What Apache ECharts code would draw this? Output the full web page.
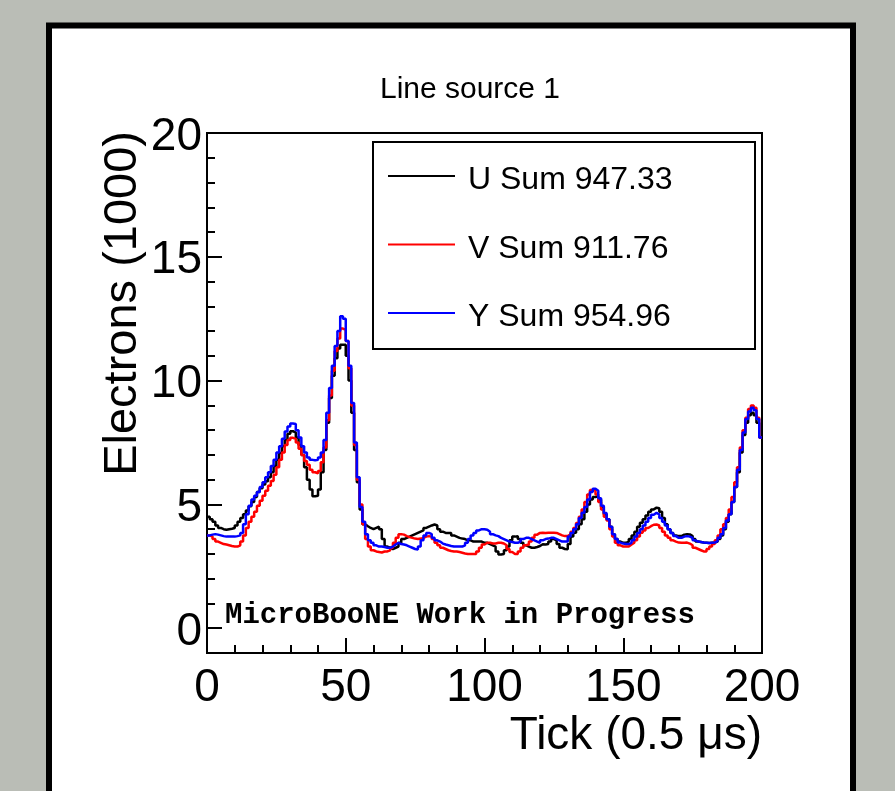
<!DOCTYPE html>
<html>
<head>
<meta charset="utf-8">
<title>Line source 1</title>
<script src="https://cdn.jsdelivr.net/npm/echarts@6/dist/echarts.min.js"></script>
<style>
  html, body { margin: 0; padding: 0; background: #babdb6; }
  #chart { width: 895px; height: 791px; }
</style>
</head>
<body>
<div id="chart"></div>
<script>
// Collected charge per readout tick (1000 electrons), one bin per tick, ticks 0..199
const uPlane = [
  4.5, 4.4, 4.3, 4.15, 4.05, 4.0, 3.98, 4.0, 4.02, 4.05,
  4.15, 4.3, 4.45, 4.6, 4.75, 4.93, 5.1, 5.3, 5.5, 5.65,
  5.8, 5.94, 6.1, 6.3, 6.55, 6.8, 7.08, 7.35, 7.6, 7.85,
  7.96, 7.9, 7.7, 7.4, 7.0, 6.5, 6.0, 5.6, 5.33, 5.35,
  5.6, 6.3, 7.2, 8.3, 9.3, 10.2, 10.9, 11.3, 11.45, 11.45,
  11.0, 10.0, 8.7, 7.2, 5.9, 4.8, 4.2, 4.12, 4.05, 4.0,
  4.05, 4.1, 4.0, 3.6, 3.3, 3.25, 3.2, 3.25, 3.3, 3.45,
  3.6, 3.65, 3.7, 3.75, 3.8, 3.85, 3.9, 3.95, 4.05, 4.1,
  4.15, 4.19, 4.15, 4.0, 3.9, 3.85, 3.85, 3.85, 3.75, 3.7,
  3.65, 3.62, 3.6, 3.55, 3.55, 3.5, 3.5, 3.5, 3.5, 3.45,
  3.45, 3.4, 3.35, 3.3, 3.1, 2.98, 3.0, 3.15, 3.3, 3.55,
  3.7, 3.72, 3.6, 3.45, 3.35, 3.3, 3.25, 3.25, 3.28, 3.32,
  3.39, 3.38, 3.4, 3.5, 3.6, 3.55, 3.4, 3.25, 3.2, 3.19,
  3.4, 3.7, 3.86, 4.0, 4.2, 4.4, 4.7, 5.0, 5.2, 5.3,
  5.33, 5.2, 4.9, 4.6, 4.4, 4.1, 3.8, 3.6, 3.5, 3.45,
  3.45, 3.5, 3.6, 3.75, 3.9, 4.1, 4.26, 4.4, 4.55, 4.7,
  4.8, 4.87, 4.85, 4.7, 4.45, 4.2, 4.0, 3.85, 3.75, 3.72,
  3.72, 3.78, 3.8, 3.79, 3.72, 3.6, 3.5, 3.48, 3.46, 3.45,
  3.44, 3.45, 3.46, 3.5, 3.6, 3.75, 4.0, 4.3, 4.6, 5.1,
  5.7, 6.3, 7.1, 7.8, 8.3, 8.6, 8.7, 8.6, 8.3, 7.7
];
const vPlane = [
  3.75, 3.7, 3.6, 3.5, 3.45, 3.4, 3.38, 3.35, 3.32, 3.3,
  3.3, 3.35, 3.5, 3.75, 4.05, 4.3, 4.5, 4.7, 4.95, 5.15,
  5.35, 5.55, 5.75, 5.95, 6.2, 6.5, 6.8, 7.1, 7.4, 7.6,
  7.69, 7.65, 7.5, 7.25, 7.0, 6.75, 6.6, 6.4, 6.3, 6.25,
  6.35, 6.7, 7.3, 8.4, 9.4, 10.4, 11.2, 11.7, 12.1, 12.05,
  11.6, 10.5, 9.0, 7.4, 6.0, 5.0, 4.2, 3.6, 3.3, 3.15,
  3.1, 3.08, 3.06, 3.1, 3.1, 3.15, 3.25, 3.45, 3.65, 3.8,
  3.78, 3.72, 3.68, 3.65, 3.62, 3.6, 3.62, 3.65, 3.7, 3.72,
  3.7, 3.6, 3.45, 3.35, 3.25, 3.2, 3.15, 3.12, 3.1, 3.1,
  3.08, 3.05, 3.02, 3.0, 3.0, 3.0, 3.0, 3.1, 3.25, 3.38,
  3.45, 3.45, 3.42, 3.42, 3.45, 3.45, 3.42, 3.35, 3.2, 3.08,
  3.0, 3.0, 3.1, 3.25, 3.35, 3.38, 3.5, 3.65, 3.78, 3.85,
  3.86, 3.85, 3.86, 3.86, 3.86, 3.85, 3.8, 3.75, 3.72, 3.72,
  3.8, 3.9, 4.05, 4.25, 4.5, 4.8, 5.1, 5.4, 5.58, 5.55,
  5.4, 5.1, 4.8, 4.5, 4.35, 4.0, 3.7, 3.45, 3.35, 3.3,
  3.3, 3.3, 3.38, 3.45, 3.55, 3.7, 3.86, 3.95, 4.05, 4.12,
  4.18, 4.19, 4.15, 4.05, 3.9, 3.75, 3.65, 3.55, 3.5, 3.46,
  3.45, 3.45, 3.46, 3.42, 3.35, 3.25, 3.2, 3.15, 3.1, 3.1,
  3.2, 3.3, 3.4, 3.55, 3.75, 4.0, 4.2, 4.45, 4.8, 5.3,
  5.9, 6.5, 7.3, 8.0, 8.5, 8.85, 9.0, 8.9, 8.5, 7.7
];
const yPlane = [
  3.75, 3.78, 3.8, 3.78, 3.75, 3.72, 3.7, 3.7, 3.7, 3.7,
  3.72, 3.75, 3.85, 4.2, 4.6, 4.95, 5.2, 5.35, 5.5, 5.7,
  5.9, 6.1, 6.3, 6.55, 6.8, 7.1, 7.35, 7.65, 7.95, 8.15,
  8.27, 8.25, 8.0, 7.7, 7.35, 7.1, 6.9, 6.8, 6.78, 6.8,
  6.9, 7.1, 7.6, 8.7, 9.7, 10.6, 11.4, 12.0, 12.6, 12.5,
  11.6, 10.6, 9.1, 7.5, 6.1, 4.9, 4.3, 3.8, 3.55, 3.45,
  3.35, 3.3, 3.3, 3.28, 3.25, 3.25, 3.3, 3.38, 3.45, 3.4,
  3.38, 3.35, 3.3, 3.25, 3.2, 3.18, 3.3, 3.55, 3.75, 3.85,
  3.8, 3.65, 3.55, 3.5, 3.42, 3.38, 3.35, 3.32, 3.3, 3.3,
  3.3, 3.3, 3.35, 3.45, 3.6, 3.75, 3.85, 3.95, 4.0, 4.0,
  3.98, 3.9, 3.8, 3.75, 3.72, 3.65, 3.6, 3.55, 3.5, 3.48,
  3.45, 3.45, 3.5, 3.6, 3.65, 3.65, 3.6, 3.55, 3.5, 3.45,
  3.55, 3.6, 3.62, 3.65, 3.65, 3.6, 3.55, 3.5, 3.5, 3.5,
  3.7, 3.85, 4.0, 4.2, 4.45, 4.66, 4.9, 5.2, 5.5, 5.63,
  5.55, 5.25, 4.95, 4.65, 4.4, 4.1, 3.8, 3.6, 3.46, 3.42,
  3.4, 3.4, 3.45, 3.55, 3.7, 3.85, 4.0, 4.15, 4.3, 4.45,
  4.58, 4.66, 4.6, 4.45, 4.3, 4.15, 4.0, 3.85, 3.72, 3.65,
  3.65, 3.7, 3.72, 3.7, 3.65, 3.55, 3.5, 3.48, 3.46, 3.45,
  3.44, 3.45, 3.46, 3.52, 3.65, 3.8, 4.05, 4.35, 4.6, 5.1,
  5.7, 6.4, 7.2, 7.9, 8.45, 8.75, 8.9, 8.8, 8.45, 7.7
];
const seriesNames = ['U Sum 947.33', 'V Sum 911.76', 'Y Sum 954.96'];
const seriesColors = ['#000000', '#ff0000', '#0000ff'];
const xTicks = [0, 50, 100, 150, 200];
const yTicks = [0, 5, 10, 15, 20];

// Histogram bins [i, i+1): step at the end of each bin, closing point at the upper edge
function binsToSteps(values) {
  const pts = values.map((v, i) => [i, v]);
  pts.push([values.length, values[values.length - 1]]);
  return pts;
}

const FONT = '"Liberation Sans", Arial, Helvetica, sans-serif';
const chart = echarts.init(document.getElementById('chart'), null, { renderer: 'canvas' });

const option = {
  backgroundColor: '#babdb6',
  animation: false,
  title: {
    text: 'Line source 1',
    left: 465,
    top: 70,
    textAlign: 'center',
    textStyle: { fontFamily: FONT, fontSize: 30, fontWeight: 'normal', color: '#000' }
  },
  grid: {
    left: 207, top: 133, width: 555, height: 520,
    outerBoundsMode: 'none',
    containLabel: false,
    show: true, borderColor: '#000', borderWidth: 2, backgroundColor: 'transparent'
  },
  legend: {
    orient: 'vertical',
    left: 388,
    top: 155.5,
    padding: 0,
    itemGap: 27.5,
    itemWidth: 67,
    itemHeight: 2,
    icon: 'rect',
    selectedMode: false,
    z: 10,
    data: seriesNames,
    // a thin spacer line above each entry lowers the label slightly below its line sample
    formatter: (name) => '{gap| }\n{t|' + name + '}',
    textStyle: {
      rich: {
        gap: { fontSize: 9, lineHeight: 9 },
        t: { fontFamily: FONT, fontSize: 32, lineHeight: 32, color: '#000', padding: [0, 0, 0, 8] }
      }
    }
  },
  xAxis: {
    type: 'value',
    min: 0, max: 200, interval: 50,
    axisLine: { show: true, onZero: false, lineStyle: { color: '#000', width: 2 } },
    axisTick: { show: true, inside: true, length: 15, lineStyle: { color: '#000', width: 2 } },
    minorTick: { show: true, splitNumber: 5, length: 8, lineStyle: { color: '#000', width: 2 } },
    splitLine: { show: false },
    axisLabel: {
      customValues: xTicks,
      margin: 12, fontFamily: FONT, fontSize: 46, color: '#000'
    }
  },
  yAxis: [
    {
      // fine scale: one tick per unit, starting from the axis minimum
      type: 'value',
      min: -1, max: 20, interval: 1,
      axisLine: { show: true, onZero: false, lineStyle: { color: '#000', width: 2 } },
      axisTick: { show: true, inside: true, length: 8, lineStyle: { color: '#000', width: 2 } },
      axisLabel: { show: false },
      splitLine: { show: false }
    },
    {
      // labelled scale: major ticks every 5
      type: 'value',
      min: -1, max: 20,
      position: 'left',
      axisLine: { show: false, onZero: false },
      axisTick: {
        show: true, inside: true, length: 15, customValues: yTicks,
        lineStyle: { color: '#000', width: 2 }
      },
      axisLabel: {
        customValues: yTicks,
        margin: 5,
        formatter: (v) => '{gap| }\n{v|' + v + '}',
        rich: {
          gap: { fontSize: 8, lineHeight: 8 },
          v: { fontFamily: FONT, fontSize: 46, lineHeight: 46, color: '#000' }
        }
      },
      splitLine: { show: false }
    }
  ],
  graphic: [
    {
      type: 'rect', z: -10, silent: true,
      shape: { x: 49, y: 25.5, width: 804, height: 800 },
      style: { fill: '#ffffff', stroke: '#000000', lineWidth: 6 }
    },
    {
      type: 'rect', z: 5, silent: true,
      shape: { x: 373, y: 142, width: 382, height: 207 },
      style: { fill: '#ffffff', stroke: '#000000', lineWidth: 2 }
    },
    {
      type: 'text', z: 5, silent: true,
      x: 123, y: 131, rotation: Math.PI / 2,
      style: {
        text: 'Electrons (1000)', fontFamily: FONT, fontSize: 47, fill: '#000',
        align: 'right', verticalAlign: 'middle'
      }
    },
    {
      type: 'text', z: 5, silent: true,
      x: 762, y: 736,
      style: {
        text: 'Tick (0.5 μs)', fontFamily: FONT, fontSize: 46, fill: '#000',
        align: 'right', verticalAlign: 'middle'
      }
    },
    {
      type: 'text', z: 5, silent: true,
      x: 225, y: 616,
      style: {
        text: 'MicroBooNE Work in Progress',
        fontFamily: '"Liberation Mono", "Courier New", monospace',
        fontSize: 29, fontWeight: 'bold', fill: '#000',
        align: 'left', verticalAlign: 'middle'
      }
    }
  ],
  series: [uPlane, vPlane, yPlane].map((vals, k) => ({
    name: seriesNames[k],
    type: 'line',
    xAxisIndex: 0,
    yAxisIndex: 0,
    step: 'end',
    symbol: 'none',
    clip: true,
    color: seriesColors[k],
    lineStyle: { color: seriesColors[k], width: 2.5 },
    data: binsToSteps(vals)
  }))
};

chart.setOption(option);
</script>
</body>
</html>
